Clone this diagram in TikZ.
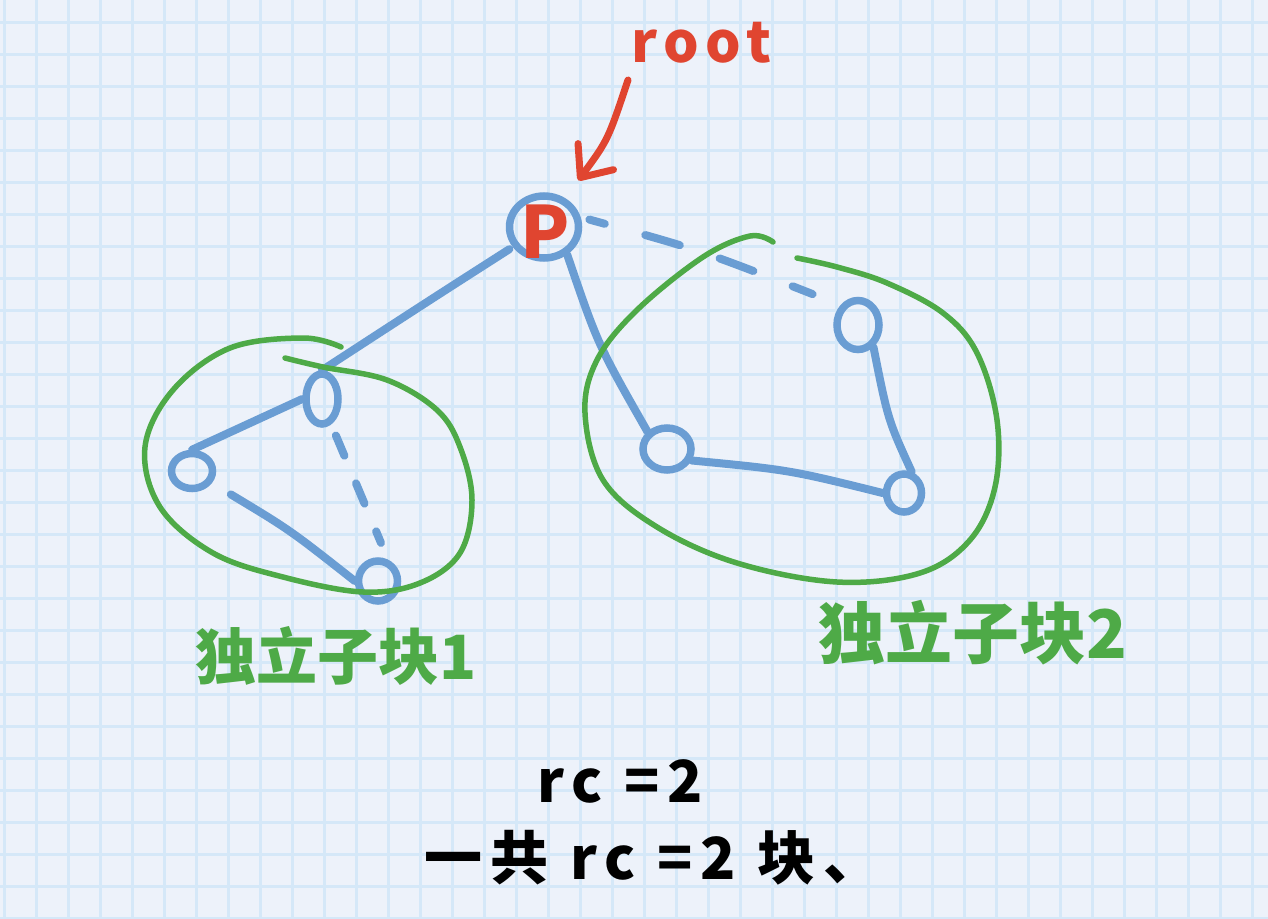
\documentclass[tikz,border=0pt]{standalone}
\usepackage{fontspec}
\setmainfont{Noto Sans CJK SC}
\usetikzlibrary{shapes.geometric,arrows.meta}
\definecolor{paper}{HTML}{EDF2FA}
\definecolor{gridline}{HTML}{D5E8F8}
\definecolor{edgeblue}{HTML}{6A9DD3}
\definecolor{blockgreen}{HTML}{4EAA47}
\definecolor{rootred}{HTML}{E04530}
\tikzset{
  vertex/.style={draw=edgeblue, line width=7.5pt, ellipse, inner sep=0pt},
  tree edge/.style={draw=edgeblue, line width=8pt, line cap=round},
  back edge/.style={tree edge, dash pattern=on 22pt off 30pt},
  block/.style={draw=blockgreen, line width=5.5pt, line cap=round, line join=round},
  blocklabel/.style={text=blockgreen, font=\fontsize{61}{61}\selectfont\bfseries},
  note/.style={text=black, font=\fontsize{58}{58}\selectfont\bfseries\addfontfeature{LetterSpace=14}},
}
\begin{document}
\begin{tikzpicture}[x=1pt, y=-1pt]
  % paper
  \fill[paper] (0,0) rectangle (1268,918);
  \useasboundingbox (0,0) rectangle (1268,918);
  \foreach \gx in {0,...,39}
    \draw[gridline, line width=3pt] ({4.5+32*\gx},0) -- ++(0,918);
  \foreach \gy in {0,...,28}
    \draw[gridline, line width=3pt] (0,{22+32*\gy}) -- ++(1268,0);

  % vertices
  \node[vertex, minimum width=69pt, minimum height=62pt] (P) at (544,227) {};
  \node[vertex, minimum width=32pt, minimum height=50pt] (A) at (322,399) {};
  \node[vertex, minimum width=41pt, minimum height=35pt] (B) at (192,471) {};
  \node[vertex, minimum width=39pt, minimum height=40pt] (C) at (378,581) {};
  \node[vertex, minimum width=42pt, minimum height=49pt] (D) at (858,325) {};
  \node[vertex, minimum width=48pt, minimum height=42pt] (E) at (667,449) {};
  \node[vertex, minimum width=35pt, minimum height=38pt] (F) at (904,493) {};

  % edges
  \draw[tree edge, shorten <=4pt] (P) .. controls (430,300) .. (A.north);
  \draw[tree edge] (A.west) -- (B.north);
  \draw[tree edge, shorten <=22pt] (B) .. controls (290,530) .. (C.west);
  \draw[back edge, shorten <=12pt, shorten >=18pt] (A.-70) -- (C.65);
  \draw[tree edge] (P.-50) .. controls (598,345) .. (E.north west);
  \draw[tree edge] (E.-25) .. controls (790,470) .. (F.west);
  \draw[tree edge] (D.-55) .. controls (888,420) .. (F.70);
  \draw[tree edge, dash pattern=on 36pt off 42pt, dash phase=20pt,
        shorten <=9pt, shorten >=30pt] (P.15) .. controls (700,250) .. (D.north west);

  % blocks
  \draw[block] plot[smooth, tension=0.6] coordinates {(341,347) (303,338) (230,348)
    (173,390) (145,447) (160,507) (213,553) (283,577) (363,592) (420,583)
    (460,553) (472,500) (460,447) (437,410) (387,380) (323,367) (285,358)};
  \draw[block] plot[smooth, tension=0.6] coordinates {(773,242) (750,236) (703,257)
    (637,310) (597,360) (585,413) (603,480) (657,527) (737,563) (837,582)
    (920,573) (970,540) (995,487) (997,420) (977,353) (943,313) (887,283)
    (837,267) (797,258)};

  % labels
  \node[text=rootred, font=\fontsize{72}{72}\selectfont\bfseries] (Plabel) at (545,232) {P};
  \node[text=rootred, font=\fontsize{56}{56}\selectfont\bfseries\addfontfeature{LetterSpace=12}]
    (root) at (701,43) {root};
  \coordinate (arrowtail) at (628,80);
  \draw[rootred, line width=7pt, line cap=round,
        -{Straight Barb[length=26pt, width=44pt, round]}, shorten >=22pt]
    (arrowtail) .. controls (608,140) .. (P);
  \node[blocklabel] (block1) at (336,656) {独立子块1};
  \node[blocklabel, font=\fontsize{67}{67}\selectfont\bfseries] (block2) at (973,633) {独立子块2};
  \node[note] (rc) at (620,781) {rc =2};
  \node[note] (total) at (653,858) {一共 rc =2 块、};
\end{tikzpicture}
\end{document}
